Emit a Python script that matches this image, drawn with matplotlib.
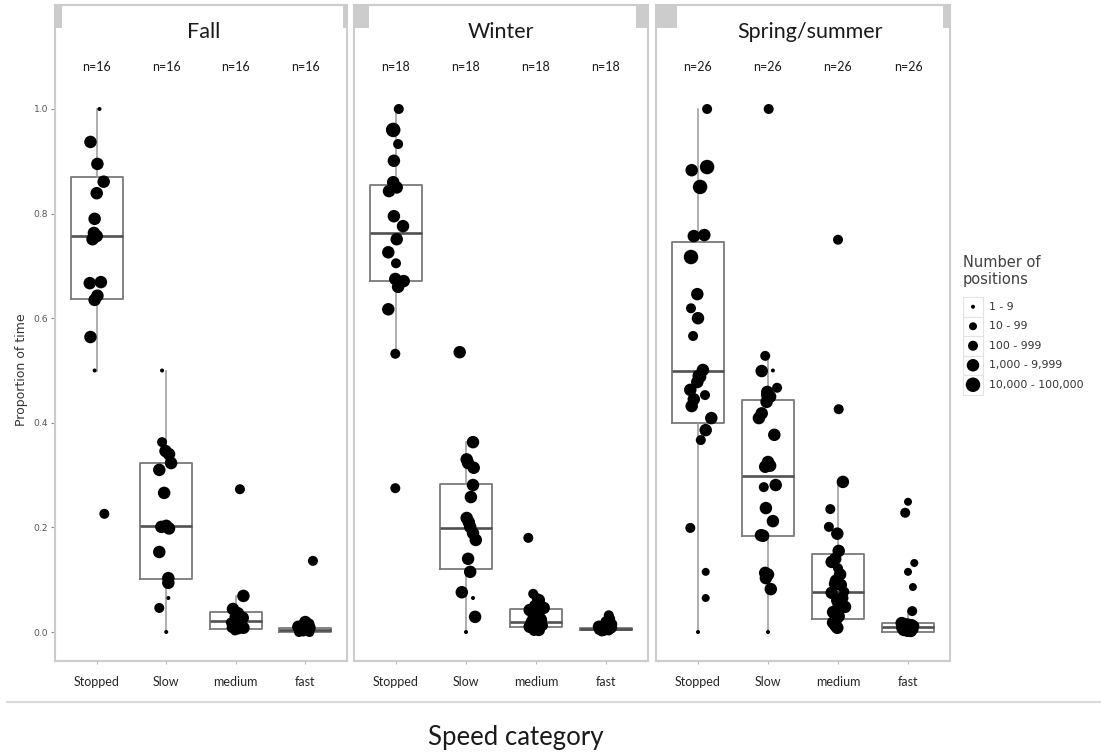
import matplotlib
matplotlib.use('Agg')
import matplotlib.pyplot as plt
from matplotlib.patches import Rectangle

W, H = 1101, 752

# ---------------- data ----------------
seasons = ['Fall', 'Winter', 'Spring/summer']
categories = ['Stopped', 'Slow', 'medium', 'fast']
n_per_season = [16, 18, 26]
size_labels = ['1 - 9', '10 - 99', '100 - 999', '1,000 - 9,999', '10,000 - 100,000']
y_ticks = [0.0, 0.2, 0.4, 0.6, 0.8, 1.0]

# box statistics per season (Stopped, Slow, medium, fast)
fall_q1 = [0.637, 0.101, 0.006, 0.000]
fall_med = [0.757, 0.203, 0.021, 0.003]
fall_q3 = [0.870, 0.323, 0.038, 0.007]
fall_wlo = [0.500, 0.000, 0.003, 0.000]
fall_whi = [1.000, 0.500, 0.069, 0.016]

winter_q1 = [0.671, 0.120, 0.010, 0.004]
winter_med = [0.763, 0.199, 0.019, 0.006]
winter_q3 = [0.855, 0.283, 0.044, 0.008]
winter_wlo = [0.532, 0.000, 0.002, 0.001]
winter_whi = [1.000, 0.363, 0.073, 0.012]

spring_q1 = [0.400, 0.184, 0.025, 0.000]
spring_med = [0.499, 0.298, 0.076, 0.009]
spring_q3 = [0.746, 0.444, 0.149, 0.017]
spring_wlo = [0.000, 0.000, 0.008, 0.000]
spring_whi = [1.000, 0.528, 0.287, 0.040]

# individual proportions, number-of-positions class (1..5), jitter offset
fall_stopped = [1.000, 0.937, 0.895, 0.861, 0.839, 0.790, 0.763, 0.751, 0.757, 0.669, 0.667, 0.643, 0.635, 0.564, 0.500, 0.226]
fall_stopped_cls = [1, 4, 4, 4, 4, 4, 4, 4, 4, 4, 4, 4, 4, 4, 1, 3]
fall_stopped_jit = [0.04, -0.09, 0.01, 0.10, 0.0, -0.03, -0.04, -0.06, 0.0, 0.06, -0.10, 0.01, -0.03, -0.09, -0.03, 0.11]

fall_slow = [0.500, 0.363, 0.346, 0.340, 0.323, 0.310, 0.266, 0.203, 0.201, 0.198, 0.153, 0.103, 0.094, 0.065, 0.046, 0.000]
fall_slow_cls = [1, 3, 4, 4, 4, 4, 4, 4, 4, 4, 4, 4, 4, 1, 3, 1]
fall_slow_jit = [-0.06, -0.06, -0.01, 0.04, 0.07, -0.10, -0.03, 0.0, -0.07, 0.04, -0.10, 0.03, 0.03, 0.03, -0.10, 0.0]

fall_medium = [0.273, 0.069, 0.044, 0.042, 0.036, 0.029, 0.027, 0.021, 0.018, 0.015, 0.012, 0.010, 0.008, 0.008, 0.005, 0.003]
fall_medium_cls = [3, 4, 4, 3, 4, 4, 4, 3, 3, 3, 3, 4, 4, 3, 3, 3]
fall_medium_jit = [0.06, 0.11, -0.04, -0.03, 0.03, 0.0, 0.10, 0.04, -0.07, 0.07, 0.01, -0.03, 0.11, -0.06, 0.04, -0.01]

fall_fast = [0.136, 0.019, 0.016, 0.012, 0.010, 0.008, 0.007, 0.006, 0.005, 0.004, 0.003, 0.003, 0.002, 0.001, 0.000, 0.000]
fall_fast_cls = [3, 4, 3, 3, 4, 4, 3, 3, 3, 3, 3, 3, 3, 3, 3, 3]
fall_fast_jit = [0.11, 0.0, 0.06, -0.04, -0.10, 0.06, -0.03, 0.01, -0.07, -0.01, 0.04, -0.06, 0.01, -0.03, -0.09, 0.06]

winter_stopped = [1.000, 0.960, 0.933, 0.901, 0.860, 0.850, 0.843, 0.795, 0.776, 0.751, 0.726, 0.705, 0.675, 0.671, 0.660, 0.617, 0.532, 0.275]
winter_stopped_cls = [3, 5, 3, 4, 4, 4, 4, 4, 4, 4, 4, 3, 4, 4, 4, 4, 3, 3]
winter_stopped_jit = [0.04, -0.04, 0.03, -0.03, -0.04, 0.01, -0.10, -0.03, 0.10, 0.01, -0.11, 0.0, -0.01, 0.11, 0.03, -0.11, -0.01, -0.01]

winter_slow = [0.535, 0.363, 0.330, 0.323, 0.314, 0.281, 0.258, 0.218, 0.210, 0.201, 0.189, 0.176, 0.140, 0.115, 0.076, 0.065, 0.029, 0.000]
winter_slow_cls = [4, 4, 4, 4, 4, 4, 4, 4, 4, 4, 4, 4, 4, 4, 4, 1, 4, 1]
winter_slow_jit = [-0.09, 0.10, 0.01, 0.03, 0.11, 0.10, 0.07, 0.01, 0.04, 0.06, 0.10, 0.14, 0.03, 0.06, -0.06, 0.10, 0.13, 0.0]

winter_medium = [0.180, 0.073, 0.065, 0.061, 0.050, 0.046, 0.042, 0.036, 0.029, 0.025, 0.023, 0.019, 0.015, 0.012, 0.010, 0.008, 0.004, 0.002]
winter_medium_cls = [3, 3, 3, 4, 4, 4, 4, 4, 4, 4, 4, 4, 4, 3, 4, 4, 4, 3]
winter_medium_jit = [-0.11, -0.04, 0.01, 0.04, -0.01, 0.11, -0.09, 0.01, -0.03, 0.06, 0.07, -0.06, 0.03, 0.10, -0.09, 0.0, 0.04, -0.03]

winter_fast = [0.032, 0.025, 0.019, 0.015, 0.012, 0.010, 0.009, 0.008, 0.008, 0.007, 0.006, 0.006, 0.005, 0.004, 0.004, 0.003, 0.002, 0.001]
winter_fast_cls = [3, 3, 4, 3, 3, 4, 4, 3, 3, 3, 3, 3, 3, 3, 3, 3, 3, 3]
winter_fast_jit = [0.04, 0.06, 0.01, 0.09, -0.04, -0.10, 0.07, -0.01, 0.03, -0.07, -0.03, 0.06, -0.06, 0.0, -0.10, 0.04, -0.03, -0.06]

spring_stopped = [1.000, 0.889, 0.883, 0.851, 0.759, 0.757, 0.717, 0.646, 0.619, 0.600, 0.566, 0.501, 0.490, 0.488, 0.478, 0.463, 0.453, 0.445, 0.432, 0.409, 0.386, 0.367, 0.199, 0.115, 0.065, 0.000]
spring_stopped_cls = [3, 5, 4, 5, 4, 4, 5, 4, 3, 4, 3, 4, 4, 4, 4, 4, 3, 4, 4, 4, 4, 3, 3, 2, 2, 1]
spring_stopped_jit = [0.13, 0.13, -0.09, 0.03, 0.09, -0.06, -0.10, -0.01, -0.10, 0.0, -0.07, 0.07, 0.01, 0.03, -0.01, -0.11, 0.10, -0.06, -0.09, 0.19, 0.11, 0.04, -0.11, 0.11, 0.11, 0.0]

spring_slow = [1.000, 0.528, 0.500, 0.499, 0.467, 0.459, 0.453, 0.450, 0.418, 0.409, 0.377, 0.325, 0.318, 0.316, 0.281, 0.277, 0.237, 0.212, 0.185, 0.184, 0.113, 0.110, 0.103, 0.082, 0.440, 0.000]
spring_slow_cls = [3, 3, 1, 4, 3, 4, 4, 4, 4, 4, 4, 4, 4, 4, 4, 3, 4, 4, 4, 4, 4, 4, 4, 4, 4, 1]
spring_slow_jit = [0.01, -0.04, 0.07, -0.09, 0.13, -0.01, -0.01, 0.03, -0.09, -0.13, 0.09, 0.0, 0.03, -0.04, 0.11, -0.06, -0.03, 0.07, -0.10, -0.07, -0.04, 0.0, -0.03, 0.04, -0.02, 0.0]

spring_medium = [0.750, 0.426, 0.287, 0.235, 0.201, 0.188, 0.155, 0.140, 0.134, 0.122, 0.110, 0.098, 0.092, 0.090, 0.077, 0.075, 0.065, 0.060, 0.050, 0.048, 0.038, 0.030, 0.023, 0.018, 0.013, 0.008]
spring_medium_cls = [3, 3, 4, 3, 3, 4, 4, 4, 4, 3, 4, 4, 3, 4, 3, 4, 4, 4, 4, 4, 4, 4, 4, 4, 4, 4]
spring_medium_jit = [0.0, 0.01, 0.07, -0.11, -0.13, -0.01, 0.01, -0.04, -0.09, 0.0, 0.03, -0.03, -0.06, 0.04, 0.09, -0.09, 0.06, -0.01, 0.01, 0.10, -0.07, 0.01, -0.03, -0.07, -0.04, -0.01]

spring_fast = [0.249, 0.228, 0.132, 0.115, 0.086, 0.040, 0.017, 0.015, 0.014, 0.013, 0.012, 0.011, 0.010, 0.010, 0.009, 0.009, 0.009, 0.008, 0.008, 0.007, 0.006, 0.005, 0.004, 0.003, 0.002, 0.000]
spring_fast_cls = [2, 3, 2, 2, 2, 3, 4, 4, 4, 4, 3, 4, 4, 4, 3, 4, 4, 3, 4, 3, 4, 3, 4, 3, 4, 3]
spring_fast_jit = [0.0, -0.04, 0.09, 0.0, 0.07, 0.06, -0.09, -0.05, 0.0, 0.05, 0.09, -0.07, -0.02, 0.03, 0.07, -0.04, 0.01, 0.06, -0.08, -0.03, 0.02, 0.08, -0.06, 0.0, 0.04, -0.01]

# ---------------- assembly ----------------
box_data = [
    (fall_q1, fall_med, fall_q3, fall_wlo, fall_whi),
    (winter_q1, winter_med, winter_q3, winter_wlo, winter_whi),
    (spring_q1, spring_med, spring_q3, spring_wlo, spring_whi),
]
point_data = [
    [(fall_stopped, fall_stopped_cls, fall_stopped_jit), (fall_slow, fall_slow_cls, fall_slow_jit),
     (fall_medium, fall_medium_cls, fall_medium_jit), (fall_fast, fall_fast_cls, fall_fast_jit)],
    [(winter_stopped, winter_stopped_cls, winter_stopped_jit), (winter_slow, winter_slow_cls, winter_slow_jit),
     (winter_medium, winter_medium_cls, winter_medium_jit), (winter_fast, winter_fast_cls, winter_fast_jit)],
    [(spring_stopped, spring_stopped_cls, spring_stopped_jit), (spring_slow, spring_slow_cls, spring_slow_jit),
     (spring_medium, spring_medium_cls, spring_medium_jit), (spring_fast, spring_fast_cls, spring_fast_jit)],
]

# marker diameter (px) per size class
diam_px = {1: 4.0, 2: 8.0, 3: 10.0, 4: 12.5, 5: 14.5}
def msize(c):
    return (diam_px[c] * 72.0 / 100.0) ** 2

GREY_BORDER = '#cccccc'
fig = plt.figure(figsize=(W / 100, H / 100), dpi=100)
fig.patch.set_facecolor('white')

panel_x = [(55, 347), (354, 648), (656, 950)]
corner_w = [(7, 4), (15, 12), (21, 7)]
title_dx = [0.04, 0.0, 0.10]
py0, py1 = 5, 661
y_zero_px, y_one_px = 632, 109
ppu = y_zero_px - y_one_px
ylim = ((y_zero_px - py1) / ppu, (y_zero_px - py0) / ppu)

axes = []
for k, (x0, x1) in enumerate(panel_x):
    ax = fig.add_axes([x0 / W, 1 - py1 / H, (x1 - x0) / W, (py1 - py0) / H])
    axes.append(ax)
    ax.set_xlim(-0.6, 3.6)
    ax.set_ylim(*ylim)
    for sp in ax.spines.values():
        sp.set_color(GREY_BORDER)
        sp.set_linewidth(1.5)
    q1, med, q3, wlo, whi = box_data[k]
    stats = [dict(q1=q1[i], med=med[i], q3=q3[i], whislo=wlo[i], whishi=whi[i], fliers=[])
             for i in range(len(categories))]
    ax.bxp(stats, positions=range(len(categories)), widths=0.75, showfliers=False, showcaps=False,
           boxprops=dict(color='#7a7a7a', linewidth=1.3),
           whiskerprops=dict(color='#999999', linewidth=1.1),
           medianprops=dict(color='#505050', linewidth=1.9))
    for i, (vals, cls, jit) in enumerate(point_data[k]):
        xs = [i + j for j in jit]
        ax.scatter(xs, vals, s=[msize(c) for c in cls], color='black', edgecolors='none', zorder=3)
        ax.text(i, 1.08, 'n=%d' % n_per_season[k], ha='center', va='center',
                fontsize=9, family='Lato', color='#1a1a1a')
    ax.text(1.5 + title_dx[k], 1.147, seasons[k], ha='center', va='center', fontsize=15.5,
            family='Lato', color='#1a1a1a')
    ax.set_xticks(range(len(categories)))
    ax.set_xticklabels(categories, fontsize=9, family='Lato', color='#262626')
    ax.tick_params(axis='x', length=2.5, color='#bbbbbb', pad=8)
    if k == 0:
        ax.set_yticks(y_ticks)
        ax.set_yticklabels(['%.1f' % v for v in y_ticks], fontsize=6.6, family='DejaVu Sans', color='#555555')
        ax.tick_params(axis='y', length=3, color='#888888', pad=2)
    else:
        ax.set_yticks([])

# overlay in pixel coordinates
ov = fig.add_axes([0, 0, 1, 1])
ov.set_xlim(0, W)
ov.set_ylim(H, 0)
ov.axis('off')
ov.patch.set_alpha(0)

for (x0, x1), (cl, cr) in zip(panel_x, corner_w):
    ov.add_patch(Rectangle((x0, py0), cl, 23, color=GREY_BORDER, lw=0))
    ov.add_patch(Rectangle((x1 - cr, py0), cr, 23, color=GREY_BORDER, lw=0))

ov.text(22, 370, 'Proportion of time', rotation=90, ha='center', va='center', fontsize=9,
        family='DejaVu Sans', color='#333333')
ov.plot([7, 1100], [702, 702], color='#d9d9d9', lw=1.5)
ov.text(516, 737, 'Speed category', ha='center', va='center', fontsize=18.5, family='Lato', color='#1a1a1a')

# legend
ov.text(963, 255, 'Number of\npositions', ha='left', va='top', fontsize=10.5, family='DejaVu Sans',
        color='#404040', linespacing=1.2)
key_y0 = 297
key_h = 19.5
for r, lab in enumerate(size_labels):
    yc = key_y0 + key_h * r + key_h / 2
    ov.add_patch(Rectangle((963, key_y0 + key_h * r), 20, key_h, facecolor='white',
                           edgecolor='#e3e3e3', lw=0.8))
    ov.scatter([973], [yc], s=msize(r + 1), color='black', edgecolors='none', zorder=3)
    ov.text(989, yc, lab, ha='left', va='center', fontsize=7.8, family='DejaVu Sans', color='#333333')

fig.savefig('out.png', dpi=100, facecolor='white')
